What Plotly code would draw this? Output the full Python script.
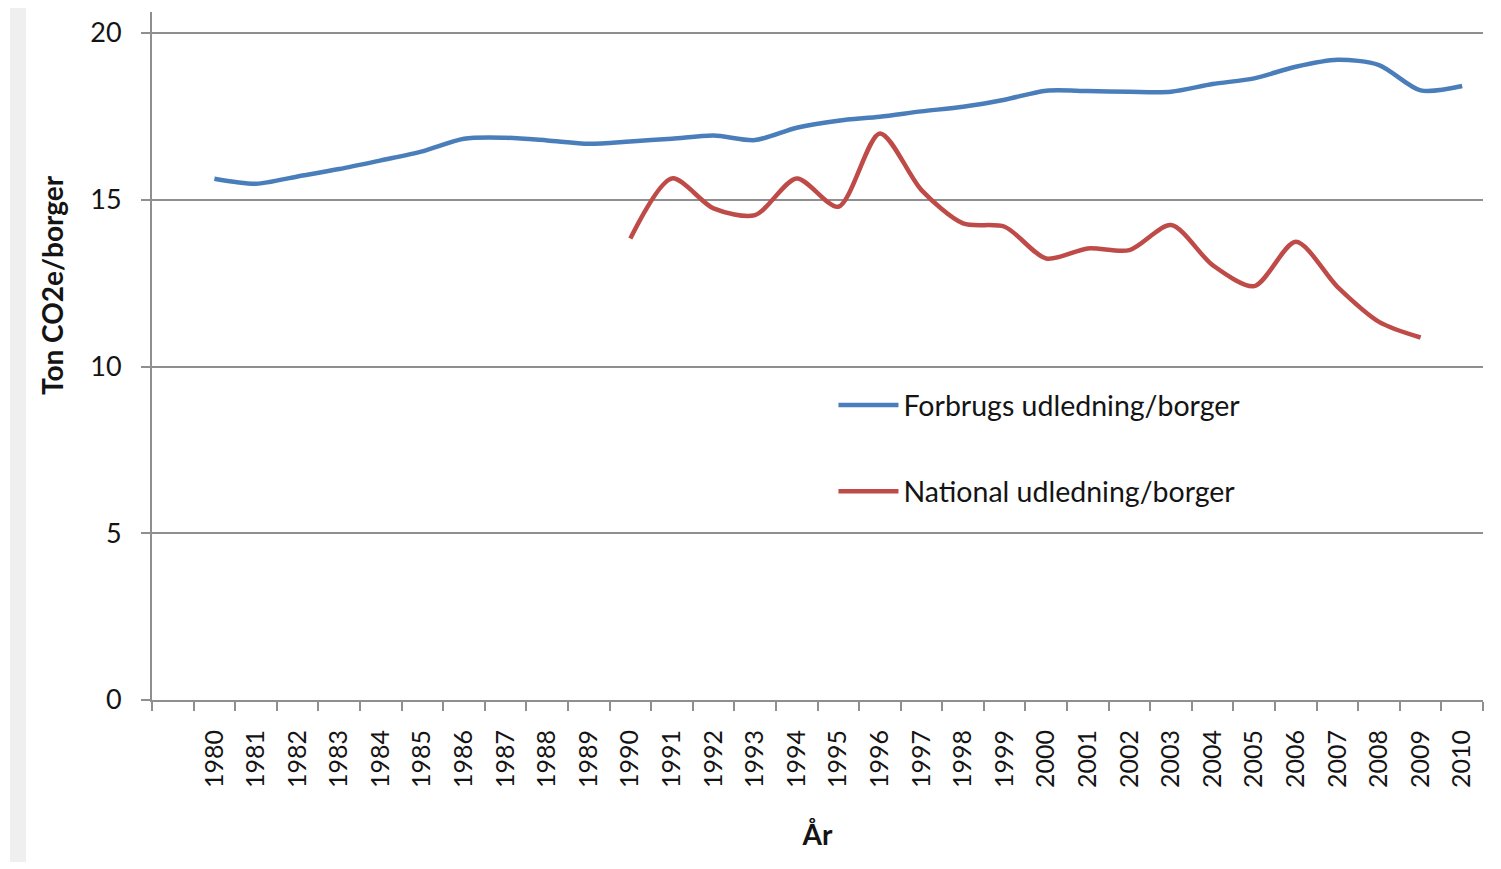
import plotly.graph_objects as go

years = list(range(1980, 2011))
forbrug = [15.63, 15.48, 15.70, 15.92, 16.18, 16.45, 16.83, 16.86, 16.78, 16.68,
           16.75, 16.83, 16.93, 16.79, 17.16, 17.37, 17.49, 17.65, 17.79, 18.00,
           18.27, 18.26, 18.24, 18.24, 18.47, 18.64, 18.99, 19.20, 19.04, 18.28, 18.41]
national = [None] * 10 + [13.84, 15.64, 14.74, 14.54, 15.64, 14.79, 16.99, 15.29, 14.29, 14.19,
                          13.24, 13.54, 13.49, 14.24, 13.04, 12.41, 13.74, 12.39, 11.34, 10.87, None]
series_names = ["Forbrugs udledning/borger", "National udledning/borger"]
y_ticks = [0, 5, 10, 15, 20]

FONT = "Lato"
TXT = "#141414"
GRID = "#8f8f8f"

fig = go.Figure()
fig.add_trace(go.Scatter(x=years, y=forbrug, name=series_names[0], mode="lines",
                         line=dict(color="#4a7ebb", width=4.5, shape="spline", smoothing=0.8),
                         legendgroup="a"))
fig.add_trace(go.Scatter(x=years, y=national, name=series_names[1], mode="lines",
                         line=dict(color="#be4b48", width=4.5, shape="spline", smoothing=0.8),
                         legendgroup="b"))

fig.update_layout(
    width=1493, height=861,
    margin=dict(l=144, r=18, t=4, b=169),
    paper_bgcolor="white", plot_bgcolor="white",
    font=dict(family=FONT, color=TXT),
    showlegend=True,
    legend=dict(x=0.512, y=0.465, xanchor="left", yanchor="top",
                font=dict(family=FONT, size=28.5, color=TXT),
                tracegroupgap=46, bgcolor="rgba(0,0,0,0)", itemwidth=60),
    xaxis=dict(
        range=[1978.5, 2010.5], tickmode="array", tickvals=years,
        ticktext=[str(y) for y in years], tickangle=-90,
        ticks="", showgrid=False, zeroline=False,
        showline=True, linecolor=GRID, linewidth=2,
        tickfont=dict(family=FONT, size=25, color=TXT),
        ticklabelstandoff=18,
        minor=dict(ticks="outside", tick0=1978.5, dtick=1, ticklen=9,
                   tickcolor=GRID, tickwidth=2, showgrid=False),
        title=dict(text="<b>År</b>", font=dict(family=FONT, size=28, color=TXT), standoff=38),
    ),
    yaxis=dict(
        range=[0, 20.63], tickmode="array", tickvals=y_ticks,
        showgrid=True, gridcolor=GRID, gridwidth=2, zeroline=False,
        showline=True, linecolor=GRID, linewidth=2,
        ticks="outside", ticklen=9, tickcolor=GRID, tickwidth=2,
        tickfont=dict(family=FONT, size=27, color=TXT),
        ticklabelstandoff=14,
    ),
    annotations=[dict(text="<b>Ton CO2e/borger</b>", xref="paper", yref="paper",
                      x=(52 - 152) / 1331, y=(700 - 285) / 688, textangle=-90,
                      showarrow=False, font=dict(family=FONT, size=28, color=TXT),
                      xanchor="center", yanchor="middle")],
    shapes=[dict(type="rect", xref="paper", yref="paper",
                 x0=(10 - 152) / 1331, x1=(26 - 152) / 1331,
                 y0=(700 - 862) / 688, y1=(700 - 0) / 688,
                 fillcolor="#efefef", line=dict(width=0), layer="below")],
)

fig.write_html("out.html")
